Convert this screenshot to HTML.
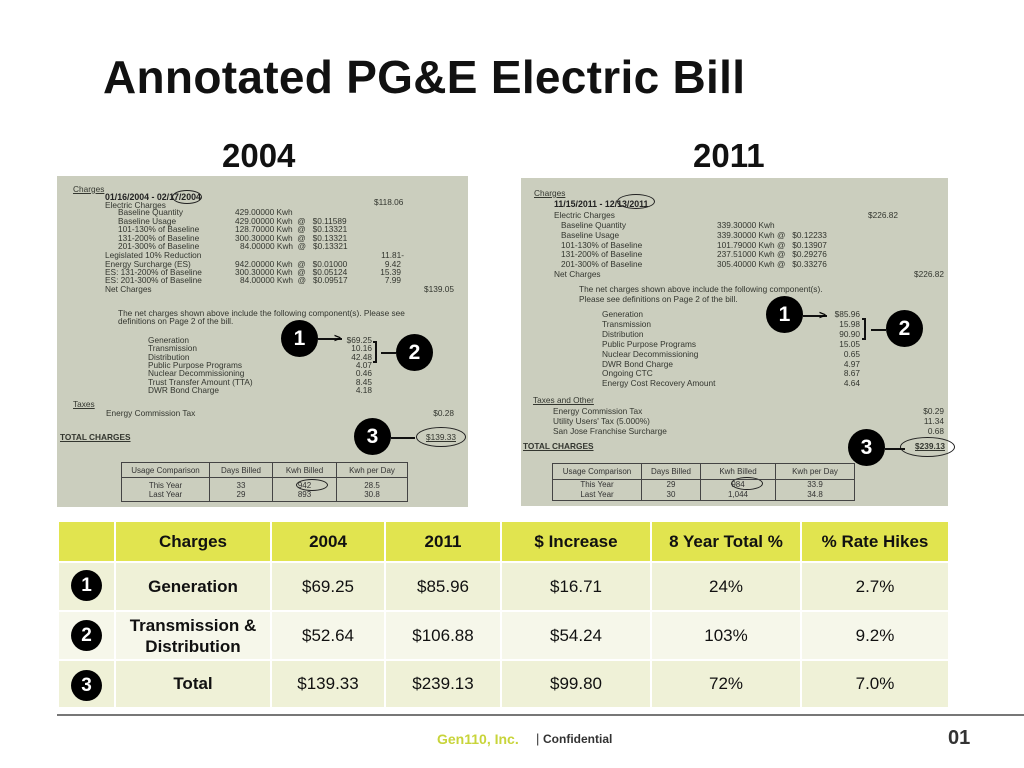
<!DOCTYPE html>
<html><head><meta charset="utf-8"><style>
*{margin:0;padding:0;box-sizing:border-box}
body{width:1024px;height:768px;background:#fff;position:relative;overflow:hidden;font-family:"Liberation Sans",sans-serif}
.a{position:absolute;white-space:nowrap}
.b{position:absolute;white-space:nowrap;font-size:8.3px;line-height:10px;color:#33362f}
.r{text-align:right}
.bill{position:absolute;background:#cbcebe}
.c{position:absolute;border-radius:50%;background:#000;color:#fff;font-weight:bold;text-align:center;font-family:"Liberation Sans",sans-serif}
.arr{position:absolute;height:2px;background:#111}
table{position:absolute;border-collapse:collapse}
.bt td{border:1px solid #444;font-size:8px;color:#333;text-align:center;padding:0}
.mt td{border:2px solid #fff;text-align:center;font-family:"Liberation Sans Narrow","Liberation Sans",sans-serif;font-size:17px;color:#111}
</style></head><body>
<div class="a" style="left:103px;top:50px;font-size:46px;font-weight:bold;color:#111;letter-spacing:0.3px">Annotated PG&amp;E Electric Bill</div>
<div class="a" style="left:222px;top:137px;font-size:33px;font-weight:bold;color:#111;font-family:'Liberation Sans Narrow','Liberation Sans',sans-serif">2004</div>
<div class="a" style="left:693px;top:137px;font-size:33px;font-weight:bold;color:#111;font-family:'Liberation Sans Narrow','Liberation Sans',sans-serif">2011</div>

<!-- LEFT BILL -->
<div class="bill" style="left:57px;top:176px;width:411px;height:331px"></div>
<div class="b" style="left:73px;top:184px;text-decoration:underline">Charges</div>
<div class="b" style="left:105px;top:192px;font-weight:bold;color:#222;font-size:8.8px">01/16/2004 - 02/17/2004</div>
<div class="b" style="left:374px;top:197px">$118.06</div>
<div class="b" style="left:105px;top:200px">Electric Charges</div>
<div class="b" style="left:118px;top:207px">Baseline Quantity</div><div class="b" style="left:235px;top:207px">429.00000 Kwh</div>
<div class="b" style="left:118px;top:216px">Baseline Usage</div><div class="b" style="left:235px;top:216px">429.00000 Kwh&nbsp; @&nbsp;&nbsp; $0.11589</div>
<div class="b" style="left:118px;top:224px">101-130% of Baseline</div><div class="b" style="left:235px;top:224px">128.70000 Kwh&nbsp; @&nbsp;&nbsp; $0.13321</div>
<div class="b" style="left:118px;top:233px">131-200% of Baseline</div><div class="b" style="left:235px;top:233px">300.30000 Kwh&nbsp; @&nbsp;&nbsp; $0.13321</div>
<div class="b" style="left:118px;top:241px">201-300% of Baseline</div><div class="b" style="left:240px;top:241px">84.00000 Kwh&nbsp; @&nbsp;&nbsp; $0.13321</div>
<div class="b" style="left:105px;top:250px">Legislated 10% Reduction</div><div class="b r" style="right:620px;top:250px">11.81-</div>
<div class="b" style="left:105px;top:259px">Energy Surcharge (ES)</div><div class="b" style="left:235px;top:259px">942.00000 Kwh&nbsp; @&nbsp;&nbsp; $0.01000</div><div class="b r" style="right:623px;top:259px">9.42</div>
<div class="b" style="left:105px;top:267px">ES: 131-200% of Baseline</div><div class="b" style="left:235px;top:267px">300.30000 Kwh&nbsp; @&nbsp;&nbsp; $0.05124</div><div class="b r" style="right:623px;top:267px">15.39</div>
<div class="b" style="left:105px;top:275px">ES: 201-300% of Baseline</div><div class="b" style="left:240px;top:275px">84.00000 Kwh&nbsp; @&nbsp;&nbsp; $0.09517</div><div class="b r" style="right:623px;top:275px">7.99</div>
<div class="b" style="left:105px;top:284px">Net Charges</div><div class="b r" style="right:570px;top:284px">$139.05</div>
<div class="b" style="left:118px;top:308px">The net charges shown above include the following component(s). Please see</div>
<div class="b" style="left:118px;top:316px">definitions on Page 2 of the bill.</div>
<div class="b" style="left:148px;top:335px">Generation</div><div class="b r" style="right:652px;top:335px">$69.25</div>
<div class="b" style="left:148px;top:343px">Transmission</div><div class="b r" style="right:652px;top:343px">10.16</div>
<div class="b" style="left:148px;top:352px">Distribution</div><div class="b r" style="right:652px;top:352px">42.48</div>
<div class="b" style="left:148px;top:360px">Public Purpose Programs</div><div class="b r" style="right:652px;top:360px">4.07</div>
<div class="b" style="left:148px;top:368px">Nuclear Decommissioning</div><div class="b r" style="right:652px;top:368px">0.46</div>
<div class="b" style="left:148px;top:377px">Trust Transfer Amount (TTA)</div><div class="b r" style="right:652px;top:377px">8.45</div>
<div class="b" style="left:148px;top:385px">DWR Bond Charge</div><div class="b r" style="right:652px;top:385px">4.18</div>
<div class="b" style="left:73px;top:399px;text-decoration:underline">Taxes</div>
<div class="b" style="left:106px;top:408px">Energy Commission Tax</div><div class="b r" style="right:570px;top:408px">$0.28</div>
<div class="b" style="left:60px;top:432px;text-decoration:underline;font-weight:bold">TOTAL CHARGES</div>
<div class="b r" style="right:568px;top:432px;text-decoration:underline">$139.33</div>
<div class="a" style="left:416px;top:427px;width:50px;height:20px;border:1px solid #222;border-radius:50%"></div>
<div class="a" style="left:172px;top:190px;width:30px;height:14px;border:1px solid #222;border-radius:50%"></div>
<div class="a" style="left:296px;top:479px;width:32px;height:12px;border:1px solid #222;border-radius:50%"></div>
<table class="bt" style="left:121px;top:462px;width:287px;height:40px">
<tr style="height:15px"><td style="width:88px">Usage Comparison</td><td style="width:63px">Days Billed</td><td style="width:64px">Kwh Billed</td><td>Kwh per Day</td></tr>
<tr><td style="line-height:9px">This Year<br>Last Year</td><td style="line-height:9px">33<br>29</td><td style="line-height:9px">942<br>893</td><td style="line-height:9px">28.5<br>30.8</td></tr>
</table>
<div class="c" style="left:281px;top:320px;width:37px;height:37px;font-size:21px;line-height:37px">1</div>
<div class="arr" style="left:318px;top:338px;width:24px"></div><div class="a" style="left:334px;top:331px;font-size:12px;font-weight:bold">&gt;</div>
<div class="c" style="left:396px;top:334px;width:37px;height:37px;font-size:21px;line-height:37px">2</div>
<div class="arr" style="left:381px;top:352px;width:15px"></div><div class="a" style="left:373px;top:341px;width:4px;height:22px;border:2px solid #111;border-left:none"></div>
<div class="c" style="left:354px;top:418px;width:37px;height:37px;font-size:21px;line-height:37px">3</div>
<div class="arr" style="left:391px;top:437px;width:24px"></div>

<!-- RIGHT BILL -->
<div class="bill" style="left:521px;top:178px;width:427px;height:328px"></div>
<div class="b" style="left:534px;top:188px;text-decoration:underline">Charges</div>
<div class="b" style="left:554px;top:199px;font-weight:bold;color:#222;font-size:8.8px">11/15/2011 - 12/13/2011</div>
<div class="b" style="left:554px;top:210px">Electric Charges</div><div class="b r" style="right:126px;top:210px">$226.82</div>
<div class="b" style="left:561px;top:220px">Baseline Quantity</div><div class="b" style="left:717px;top:220px">339.30000 Kwh</div>
<div class="b" style="left:561px;top:230px">Baseline Usage</div><div class="b" style="left:717px;top:230px">339.30000 Kwh @&nbsp;&nbsp; $0.12233</div>
<div class="b" style="left:561px;top:240px">101-130% of Baseline</div><div class="b" style="left:717px;top:240px">101.79000 Kwh @&nbsp;&nbsp; $0.13907</div>
<div class="b" style="left:561px;top:249px">131-200% of Baseline</div><div class="b" style="left:717px;top:249px">237.51000 Kwh @&nbsp;&nbsp; $0.29276</div>
<div class="b" style="left:561px;top:259px">201-300% of Baseline</div><div class="b" style="left:717px;top:259px">305.40000 Kwh @&nbsp;&nbsp; $0.33276</div>
<div class="b" style="left:554px;top:269px">Net Charges</div><div class="b r" style="right:80px;top:269px">$226.82</div>
<div class="b" style="left:579px;top:284px">The net charges shown above include the following component(s).</div>
<div class="b" style="left:579px;top:294px">Please see definitions on Page 2 of the bill.</div>
<div class="b" style="left:602px;top:309px">Generation</div><div class="b r" style="right:164px;top:309px">$85.96</div>
<div class="b" style="left:602px;top:319px">Transmission</div><div class="b r" style="right:164px;top:319px">15.98</div>
<div class="b" style="left:602px;top:329px">Distribution</div><div class="b r" style="right:164px;top:329px">90.90</div>
<div class="b" style="left:602px;top:339px">Public Purpose Programs</div><div class="b r" style="right:164px;top:339px">15.05</div>
<div class="b" style="left:602px;top:349px">Nuclear Decommissioning</div><div class="b r" style="right:164px;top:349px">0.65</div>
<div class="b" style="left:602px;top:359px">DWR Bond Charge</div><div class="b r" style="right:164px;top:359px">4.97</div>
<div class="b" style="left:602px;top:368px">Ongoing CTC</div><div class="b r" style="right:164px;top:368px">8.67</div>
<div class="b" style="left:602px;top:378px">Energy Cost Recovery Amount</div><div class="b r" style="right:164px;top:378px">4.64</div>
<div class="b" style="left:533px;top:395px;text-decoration:underline">Taxes and Other</div>
<div class="b" style="left:553px;top:406px">Energy Commission Tax</div><div class="b r" style="right:80px;top:406px">$0.29</div>
<div class="b" style="left:553px;top:416px">Utility Users' Tax (5.000%)</div><div class="b r" style="right:80px;top:416px">11.34</div>
<div class="b" style="left:553px;top:426px">San Jose Franchise Surcharge</div><div class="b r" style="right:80px;top:426px">0.68</div>
<div class="b" style="left:523px;top:441px;text-decoration:underline;font-weight:bold">TOTAL CHARGES</div>
<div class="b r" style="right:79px;top:441px;text-decoration:underline;font-weight:bold">$239.13</div>
<div class="a" style="left:900px;top:437px;width:55px;height:20px;border:1px solid #222;border-radius:50%"></div>
<div class="a" style="left:617px;top:194px;width:38px;height:15px;border:1px solid #222;border-radius:50%"></div>
<div class="a" style="left:731px;top:477px;width:32px;height:13px;border:1px solid #222;border-radius:50%"></div>
<table class="bt" style="left:552px;top:463px;width:303px;height:38px">
<tr style="height:16px"><td style="width:89px">Usage Comparison</td><td style="width:59px">Days Billed</td><td style="width:75px">Kwh Billed</td><td>Kwh per Day</td></tr>
<tr><td style="line-height:10px">This Year<br>Last Year</td><td style="line-height:10px">29<br>30</td><td style="line-height:10px">984<br>1,044</td><td style="line-height:10px">33.9<br>34.8</td></tr>
</table>
<div class="c" style="left:766px;top:296px;width:37px;height:37px;font-size:21px;line-height:37px">1</div>
<div class="arr" style="left:803px;top:315px;width:24px"></div><div class="a" style="left:819px;top:308px;font-size:12px;font-weight:bold">&gt;</div>
<div class="c" style="left:886px;top:310px;width:37px;height:37px;font-size:21px;line-height:37px">2</div>
<div class="arr" style="left:871px;top:329px;width:15px"></div><div class="a" style="left:862px;top:318px;width:4px;height:22px;border:2px solid #111;border-left:none"></div>
<div class="c" style="left:848px;top:429px;width:37px;height:37px;font-size:21px;line-height:37px">3</div>
<div class="arr" style="left:885px;top:448px;width:20px"></div>

<!-- SUMMARY TABLE -->
<table class="mt" style="left:57px;top:520px;width:893px">
<tr style="height:41px;background:#e1e44f;font-weight:bold"><td style="width:57px"></td><td style="width:156px">Charges</td><td style="width:114px">2004</td><td style="width:116px">2011</td><td style="width:150px">$ Increase</td><td style="width:150px">8 Year Total %</td><td>% Rate Hikes</td></tr>
<tr style="height:49px;background:#eff1d7"><td></td><td style="font-weight:bold">Generation</td><td>$69.25</td><td>$85.96</td><td>$16.71</td><td>24%</td><td>2.7%</td></tr>
<tr style="height:49px;background:#f6f7ea"><td></td><td style="font-weight:bold;line-height:21px">Transmission &amp;<br>Distribution</td><td>$52.64</td><td>$106.88</td><td>$54.24</td><td>103%</td><td>9.2%</td></tr>
<tr style="height:48px;background:#eff1d7"><td></td><td style="font-weight:bold">Total</td><td>$139.33</td><td>$239.13</td><td>$99.80</td><td>72%</td><td>7.0%</td></tr>
</table>
<div class="c" style="left:71px;top:570px;width:31px;height:31px;font-size:19px;line-height:31px">1</div>
<div class="c" style="left:71px;top:620px;width:31px;height:31px;font-size:19px;line-height:31px">2</div>
<div class="c" style="left:71px;top:670px;width:31px;height:31px;font-size:19px;line-height:31px">3</div>

<div class="a" style="left:57px;top:714px;width:967px;height:2px;background:#777"></div>
<div class="a" style="left:437px;top:731px;font-size:14px;font-weight:bold;color:#c8d43a">Gen110, Inc.</div>
<div class="a" style="left:536px;top:731px;font-size:13px;color:#333">| <span style="font-size:12px;font-weight:bold">Confidential</span></div>
<div class="a" style="left:948px;top:727px;font-size:20px;font-weight:bold;color:#333">01</div>
</body></html>
